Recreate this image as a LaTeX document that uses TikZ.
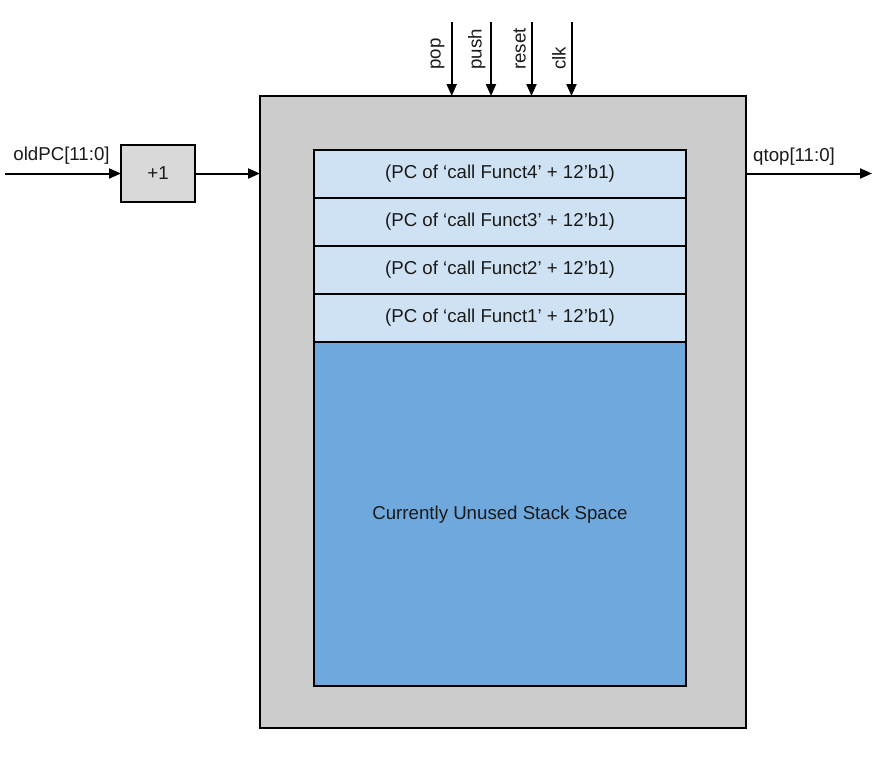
\documentclass[tikz,border=0pt]{standalone}
\usepackage{fontspec}
\setmainfont{Liberation Sans}
\usetikzlibrary{arrows.meta}
\definecolor{outergray}{HTML}{CCCCCC}
\definecolor{plusgray}{HTML}{D9D9D9}
\definecolor{lightblue}{HTML}{CFE2F3}
\definecolor{midblue}{HTML}{6FA8DC}
\definecolor{txt}{HTML}{1A1A1A}
\tikzset{
  px/.style={x=0.75pt,y=-0.75pt},
  blk/.style={draw=black,line width=1.5pt,rectangle,inner sep=0pt,outer sep=0pt,anchor=north west,text=txt,font=\fontsize{14pt}{16pt}\selectfont},
  row/.style={blk,fill=lightblue,minimum width=279pt,minimum height=36pt},
  lbl/.style={inner sep=0pt,text=txt,font=\fontsize{14pt}{16pt}\selectfont},
  sig/.style={lbl,rotate=90,anchor=west},
  arr/.style={line width=1.5pt,-{Triangle[length=9pt,width=7.5pt]}}
}
\begin{document}
\begin{tikzpicture}[px]
\useasboundingbox (0,0) rectangle (882,769);
\node[blk,fill=outergray,minimum width=364.5pt,minimum height=474pt] (outer) at (260,96) {};
\node[row] (r4) at (314,150) {(PC of ‘call Funct4’ + 12’b1)};
\node[row] (r3) at (314,198) {(PC of ‘call Funct3’ + 12’b1)};
\node[row] (r2) at (314,246) {(PC of ‘call Funct2’ + 12’b1)};
\node[row] (r1) at (314,294) {(PC of ‘call Funct1’ + 12’b1)};
\node[blk,fill=midblue,minimum width=279pt,minimum height=258pt] (free) at (314,342) {};
\node[lbl] (freetxt) at (500,515) {Currently Unused Stack Space};
\node[blk,fill=plusgray,minimum width=55.5pt,minimum height=42.75pt] (plus) at (121,145) {+1};
% input / output
\coordinate (inp) at (5,173.5);
\coordinate (outp) at (872,173.5);
\draw[arr] (inp) -- (plus.west);
\draw[arr] (plus.east) -- (outer.west |- plus.east);
\draw[arr] (outer.east |- outp) -- (outp);
\node[lbl] (oldpc) at (61.5,156) {oldPC[11:0]};
\node[lbl] (qtop) at (794,157) {qtop[11:0]};
% control signals
\coordinate (cpop) at (451.7,22);
\coordinate (cpush) at (491,22);
\coordinate (creset) at (531.5,22);
\coordinate (cclk) at (571.5,22);
\draw[arr] (cpop) -- (outer.north -| cpop);
\draw[arr] (cpush) -- (outer.north -| cpush);
\draw[arr] (creset) -- (outer.north -| creset);
\draw[arr] (cclk) -- (outer.north -| cclk);
\node[sig] (lpop) at (437.5,70) {pop};
\node[sig] (lpush) at (476.7,70) {push};
\node[sig] (lreset) at (519.7,70) {reset};
\node[sig] (lclk) at (559,70) {clk};
\end{tikzpicture}
\end{document}
